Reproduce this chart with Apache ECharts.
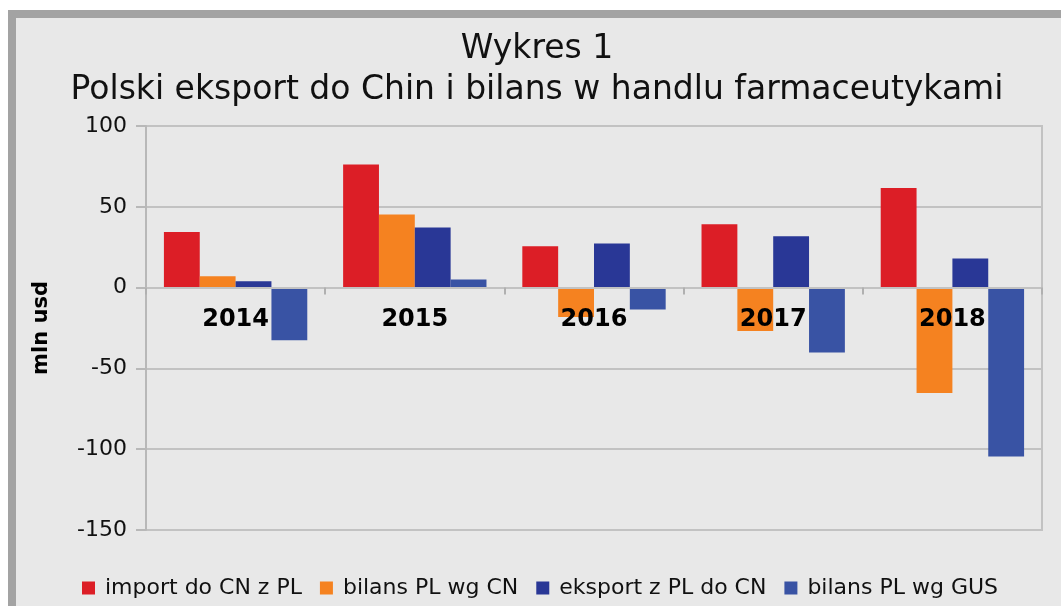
<!DOCTYPE html>
<html>
<head>
<meta charset="utf-8">
<script src="https://cdn.jsdelivr.net/npm/echarts@6/dist/echarts.min.js"></script>
<style>
  html, body { margin: 0; padding: 0; background: #ffffff; }
  #chart { width: 1061px; height: 606px; }
</style>
</head>
<body>
<div id="chart"></div>
<script>
// data (mln usd)
const years = ['2014', '2015', '2016', '2017', '2018'];
const importCN = [34.4, 76.2, 25.6, 39.2, 61.7];
const bilansCN = [7.0, 45.2, -18.2, -26.9, -65.3];
const eksportPL = [3.9, 37.2, 27.3, 31.8, 18.0];
const bilansGUS = [-32.6, 5.0, -13.6, -40.1, -104.5];
const yTicks = { min: -150, max: 100, interval: 50 };

var chart = echarts.init(document.getElementById('chart'));

const font = 'DejaVu Sans';
const gridGrey = '#c2c2c2';

// grid box, the category axis sits on the zero line
const gridTop = 126, gridBottom = 76;
const gridH = 606 - gridTop - gridBottom;
const zeroOffset = -gridH * (0 - yTicks.min) / (yTicks.max - yTicks.min);

const mkBar = (name, data, color) => ({
  name: name,
  type: 'bar',
  data: data,
  barGap: '0%',
  barCategoryGap: '20%',
  itemStyle: { color: color }
});

var option = {
  backgroundColor: '#ffffff',
  animation: false,
  graphic: [
    {
      // grey panel with the thick frame on top and left
      type: 'rect',
      z: -1,
      shape: { x: 12, y: 14, width: 1200, height: 800 },
      style: { fill: '#e8e8e8', stroke: '#a3a3a3', lineWidth: 8 }
    }
  ],
  title: {
    text: 'Wykres 1\nPolski eksport do Chin i bilans w handlu farmaceutykami',
    left: 532,
    top: 24,
    textAlign: 'center',
    textStyle: {
      fontFamily: font,
      fontSize: 33,
      fontWeight: 'normal',
      lineHeight: 41,
      color: '#111111'
    }
  },
  legend: {
    left: 77,
    top: 572,
    itemWidth: 13,
    itemHeight: 13,
    itemGap: 18,
    icon: 'rect',
    textStyle: {
      fontFamily: font,
      fontSize: 22,
      color: '#111111',
      padding: [0, 0, 0, 5]
    }
  },
  grid: {
    left: 146,
    right: 19,
    top: gridTop,
    bottom: gridBottom,
    show: true,
    borderColor: gridGrey,
    borderWidth: 2,
    backgroundColor: 'transparent'
  },
  xAxis: {
    type: 'category',
    data: years,
    position: 'bottom',
    offset: zeroOffset,
    z: 5,
    axisLine: { onZero: false, lineStyle: { color: gridGrey, width: 2 } },
    axisTick: { show: true, length: 7, lineStyle: { color: '#b0b0b0', width: 2 } },
    axisLabel: {
      margin: 20,
      fontFamily: font,
      fontSize: 24,
      fontWeight: 'bold',
      color: '#000000'
    }
  },
  yAxis: {
    type: 'value',
    min: yTicks.min,
    max: yTicks.max,
    interval: yTicks.interval,
    name: 'mln usd',
    nameLocation: 'middle',
    nameGap: 94,
    nameTextStyle: {
      fontFamily: font,
      fontSize: 21,
      fontWeight: 'bold',
      color: '#000000'
    },
    axisLine: { show: true, lineStyle: { color: '#b8b8b8', width: 2 } },
    axisTick: { show: true, length: 10, lineStyle: { color: '#b8b8b8', width: 2 } },
    axisLabel: {
      margin: 19,
      fontFamily: font,
      fontSize: 22,
      color: '#111111'
    },
    splitLine: { lineStyle: { color: gridGrey, width: 2 } }
  },
  series: [
    mkBar('import do CN z PL', importCN, '#dc1e26'),
    mkBar('bilans PL wg CN', bilansCN, '#f58220'),
    mkBar('eksport z PL do CN', eksportPL, '#293796'),
    mkBar('bilans PL wg GUS', bilansGUS, '#3953a4')
  ]
};

chart.setOption(option);
</script>
</body>
</html>
